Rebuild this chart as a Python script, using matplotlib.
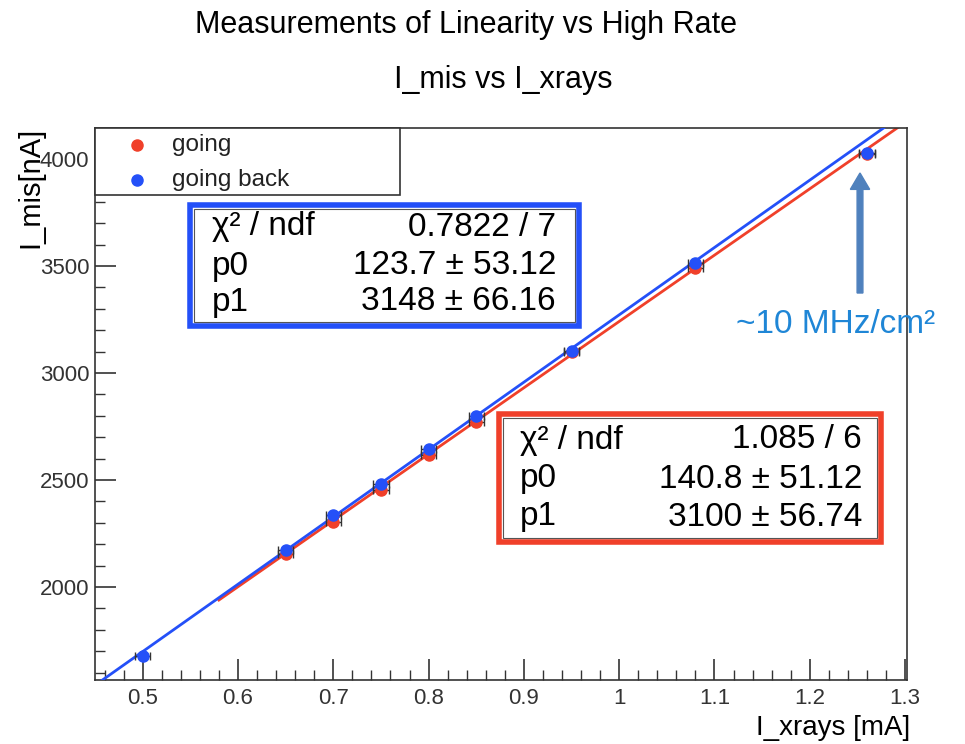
import matplotlib.pyplot as plt
import numpy as np
from matplotlib.patches import Rectangle, FancyArrow
from matplotlib.ticker import MultipleLocator

plt.rcParams['font.family'] = ['Liberation Sans', 'DejaVu Sans']

# data
x_going = [0.65, 0.70, 0.75, 0.80, 0.85, 0.95, 1.08, 1.26]
y_going = [2156, 2304, 2455, 2615, 2773, 3100, 3490, 4022]
x_back = [0.50, 0.65, 0.70, 0.75, 0.80, 0.85, 0.95, 1.08, 1.26]
y_back = [1678, 2172, 2338, 2483, 2643, 2797, 3105, 3515, 4027]
xerr = 0.008
yerr = 6

# fit results
fit_going = (140.8, 3100)
fit_back = (123.7, 3148)
stats_going = [("χ² / ndf", "1.085 / 6"), ("p0", "140.8 ± 51.12"), ("p1", "3100 ± 56.74")]
stats_back = [("χ² / ndf", "0.7822 / 7"), ("p0", "123.7 ± 53.12"), ("p1", "3148 ± 66.16")]

red = "#f0402a"
blue = "#2450f8"

W, H = 965, 744
fig = plt.figure(figsize=(W / 100, H / 100), dpi=100)


def fx(px):
    return px / W


def fy(py):
    return 1 - py / H


ax = fig.add_axes([fx(95), fy(680), fx(907) - fx(95), fy(128) - fy(680)])
ax.set_xlim(0.45, 1.302)
ax.set_ylim(1565, 4145)

# fit lines
xl = np.linspace(0.45, 1.35, 50)
ax.plot(xl, fit_back[0] + fit_back[1] * xl, color=blue, lw=2, zorder=3)
xr = np.linspace(0.58, 1.35, 50)
ax.plot(xr, fit_going[0] + fit_going[1] * xr, color=red, lw=2, zorder=2)

ax.errorbar(x_going, y_going, xerr=xerr, yerr=yerr, fmt="o", color=red, ms=8,
            ecolor="#333333", elinewidth=1, capsize=3, zorder=4)
ax.errorbar(x_back, y_back, xerr=xerr, yerr=yerr, fmt="o", color=blue, ms=8,
            ecolor="#333333", elinewidth=1, capsize=3, zorder=5)

ax.xaxis.set_minor_locator(MultipleLocator(0.02))
ax.yaxis.set_major_locator(MultipleLocator(500))
ax.yaxis.set_minor_locator(MultipleLocator(100))
ax.set_xticks(np.arange(0.5, 1.31, 0.1))
ax.set_xticklabels(["0.5", "0.6", "0.7", "0.8", "0.9", "1", "1.1", "1.2", "1.3"])
ax.tick_params(which="both", direction="in", top=False, right=False, colors="#333333",
               labelsize=16)
ax.tick_params(which="major", length=15, width=1.2)
ax.tick_params(which="minor", length=7, width=1)
ax.tick_params(axis="x", pad=6)
ax.tick_params(axis="y", pad=4)
for s in ax.spines.values():
    s.set_color("#333333")
    s.set_linewidth(1.2)

# titles and labels
fig.text(fx(466), fy(25), "Measurements of Linearity vs High Rate", ha="center", va="center",
         fontsize=22)
fig.text(fx(503), fy(80), "I_mis vs I_xrays", ha="center", va="center", fontsize=22)
fig.text(fx(910), fy(741), "I_xrays [mA]", ha="right", va="bottom", fontsize=20)
fig.text(fx(30), fy(127), "I_mis[nA]", ha="center", va="top", rotation=90, fontsize=21)

# legend box
fig.patches.append(Rectangle((fx(95), fy(195)), fx(400) - fx(95), fy(128) - fy(195),
                             transform=fig.transFigure, fill=True, facecolor="white",
                             edgecolor="#333333", lw=1.2, zorder=6))
fig.lines.append(plt.Line2D([fx(137)], [fy(145)], marker="o", ms=8, color=red,
                            transform=fig.transFigure, zorder=7))
fig.lines.append(plt.Line2D([fx(137)], [fy(180)], marker="o", ms=8, color=blue,
                            transform=fig.transFigure, zorder=7))
fig.text(fx(172), fy(145), "going", va="center", fontsize=17.5, color="#222222", zorder=7)
fig.text(fx(172), fy(180), "going back", va="center", fontsize=17.5, color="#222222", zorder=7)


def stat_box(x0, y0, x1, y1, col, rows, row_y, lx, rx):
    fig.patches.append(Rectangle((fx(x0), fy(y1)), fx(x1) - fx(x0), fy(y0) - fy(y1),
                                 transform=fig.transFigure, facecolor="white",
                                 edgecolor=col, lw=4, zorder=6))
    fig.patches.append(Rectangle((fx(x0 + 4), fy(y1 - 4)), fx(x1 - 4) - fx(x0 + 4),
                                 fy(y0 + 4) - fy(y1 - 4), transform=fig.transFigure,
                                 fill=False, edgecolor="#555555", lw=0.8, zorder=7))
    for (name, val), ry in zip(rows, row_y):
        fig.text(fx(lx), fy(ry), name, va="center", ha="left", fontsize=24, zorder=8)
        fig.text(fx(rx), fy(ry), val, va="center", ha="right", fontsize=24, zorder=8)


stat_box(190, 205, 579, 326, blue, stats_back, [227, 266, 302], 212, 556)
stat_box(499, 414, 881, 542, red, stats_going, [440, 479, 517], 520, 862)

# annotation
fig.patches.append(FancyArrow(fx(860), fy(293), 0, fy(173) - fy(293), width=0.006,
                              head_width=0.02, head_length=0.022,
                              length_includes_head=True, transform=fig.transFigure,
                              color="#4f81bd", zorder=9))
fig.text(fx(736), fy(325), "~10 MHz/cm²", va="center", ha="left", fontsize=24,
         color="#1f86d6", zorder=9)

fig.savefig("out.png", dpi=100)
